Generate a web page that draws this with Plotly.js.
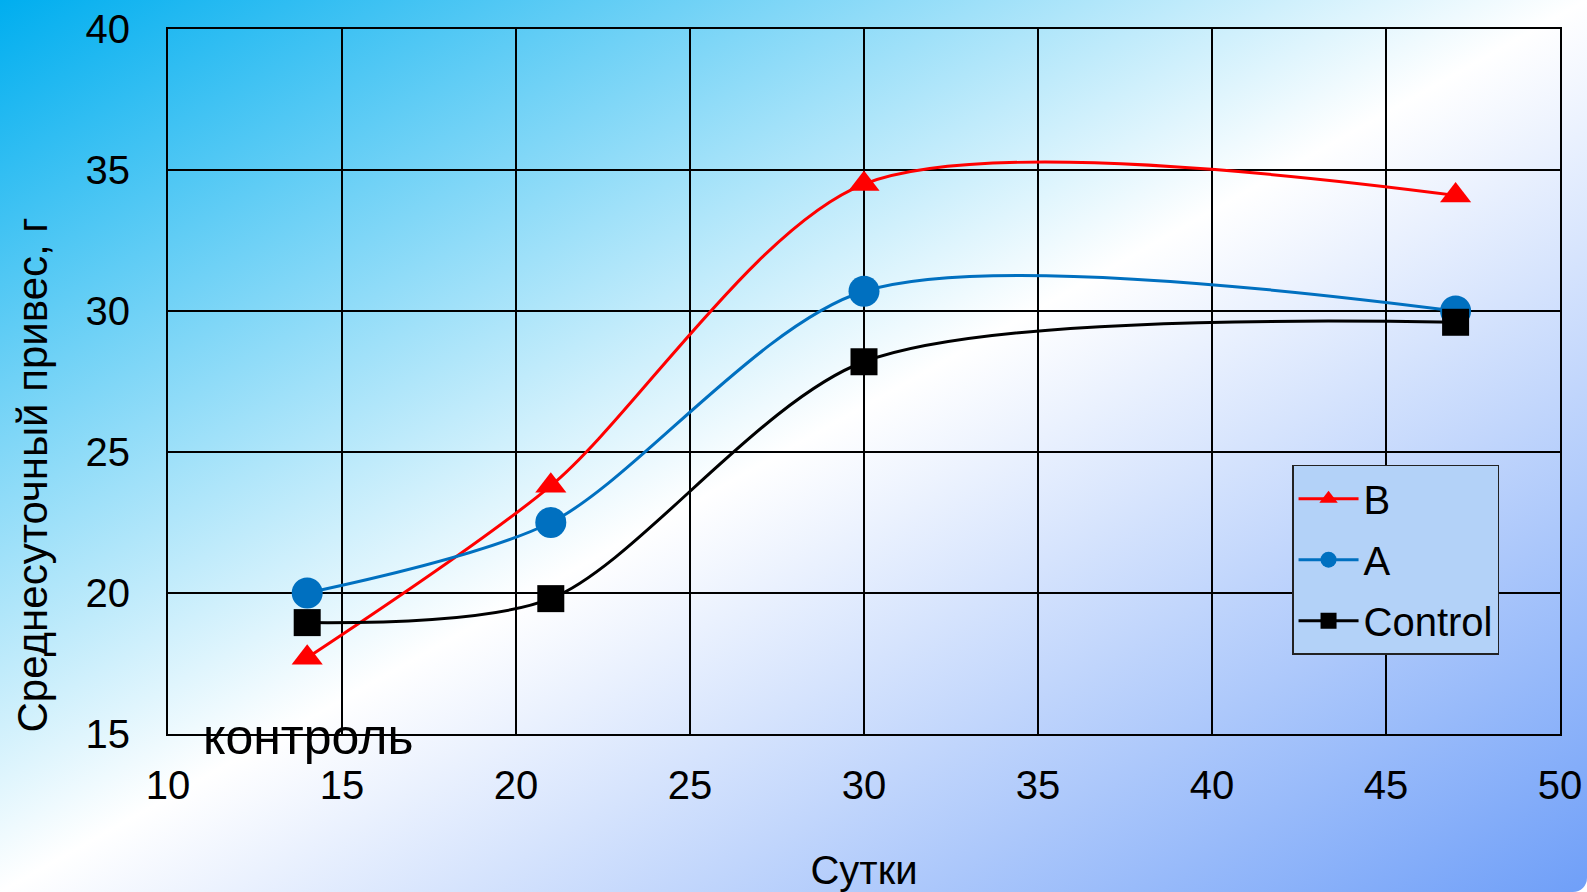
<!DOCTYPE html>
<html>
<head>
<meta charset="utf-8">
<script src="https://cdn.plot.ly/plotly-3.0.1.min.js"></script>
<style>
  html, body { margin: 0; padding: 0; background: #ffffff; }
  #wrap {
    width: 1587px; height: 892px; overflow: hidden;
    background: linear-gradient(to bottom right, #00aeef 0%, #ffffff 50%, #6f9ff8 100%);
    border-bottom-right-radius: 14px;
  }
  #chart { width: 1587px; height: 892px; }
</style>
</head>
<body>
<div id="wrap"><div id="chart"></div></div>
<script>
// Data
const days = [14, 21, 30, 47];
const seriesB = [17.7, 23.8, 34.5, 34.1];
const seriesA = [20.0, 22.5, 30.7, 30.0];
const seriesControl = [18.95, 19.8, 28.2, 29.6];
const seriesNames = ['B', 'A', 'Control'];
const xTicks = [10, 15, 20, 25, 30, 35, 40, 45, 50];
const yTicks = [15, 20, 25, 30, 35, 40];

const FONT = 'Liberation Sans, Arial, sans-serif';
const FS = 40;

const traces = [
  {
    x: days, y: seriesB, name: seriesNames[0], legendgroup: 'g1', type: 'scatter', mode: 'lines+markers',
    line: { color: '#ff0000', width: 3, shape: 'spline', smoothing: 0.8 },
    marker: { symbol: 'triangle-up', size: 27, color: '#ff0000' },
    cliponaxis: false
  },
  {
    x: days, y: seriesA, name: seriesNames[1], legendgroup: 'g2', type: 'scatter', mode: 'lines+markers',
    line: { color: '#0070c0', width: 3, shape: 'spline', smoothing: 0.8 },
    marker: { symbol: 'circle', size: 31, color: '#0070c0' },
    cliponaxis: false
  },
  {
    x: days, y: seriesControl, name: seriesNames[2], legendgroup: 'g3', type: 'scatter', mode: 'lines+markers',
    line: { color: '#000000', width: 3, shape: 'spline', smoothing: 0.8 },
    marker: { symbol: 'square', size: 27, color: '#000000' },
    cliponaxis: false
  }
];

const layout = {
  width: 1587, height: 892,
  margin: { l: 168, r: 27, t: 29, b: 158 },
  paper_bgcolor: 'rgba(0,0,0,0)',
  plot_bgcolor: 'rgba(0,0,0,0)',
  font: { family: FONT, size: FS, color: '#000000' },
  showlegend: true,
  xaxis: {
    range: [10, 50], tickvals: xTicks, ticktext: xTicks.map(String),
    showgrid: true, gridcolor: '#000000', gridwidth: 2,
    showline: true, linecolor: '#000000', linewidth: 2, mirror: true,
    zeroline: false, ticks: '', ticklabelstandoff: 15,
    tickfont: { family: FONT, size: FS, color: '#000000' },
    title: { text: 'Сутки', font: { family: FONT, size: FS, color: '#000000' }, standoff: 52 },
    automargin: false
  },
  yaxis: {
    range: [15, 40], tickvals: yTicks, ticktext: yTicks.map(String),
    showgrid: true, gridcolor: '#000000', gridwidth: 2,
    showline: true, linecolor: '#000000', linewidth: 2, mirror: true,
    zeroline: false, ticks: '', ticklabelstandoff: 28,
    tickfont: { family: FONT, size: FS, color: '#000000' },
    automargin: false
  },
  legend: {
    x: 0.8075, y: 0.382, xanchor: 'left', yanchor: 'top',
    bgcolor: '#b3d2f8', bordercolor: '#222222', borderwidth: 1.5,
    font: { family: FONT, size: FS, color: '#000000' },
    traceorder: 'grouped', tracegroupgap: 6, itemwidth: 60
  },
  annotations: [
    {
      text: 'Среднесуточный привес, г', textangle: -90,
      xref: 'paper', yref: 'paper', x: -0.097, y: 0.368,
      xanchor: 'center', yanchor: 'middle', showarrow: false,
      font: { family: FONT, size: 42, color: '#000000' }
    },
    {
      text: 'контроль', xref: 'x', yref: 'paper', x: 14.05, y: -0.004,
      xanchor: 'center', yanchor: 'middle', showarrow: false,
      font: { family: FONT, size: 50, color: '#000000' }
    }
  ]
};

Plotly.newPlot('chart', traces, layout, { displayModeBar: false, staticPlot: true });
</script>
</body>
</html>
